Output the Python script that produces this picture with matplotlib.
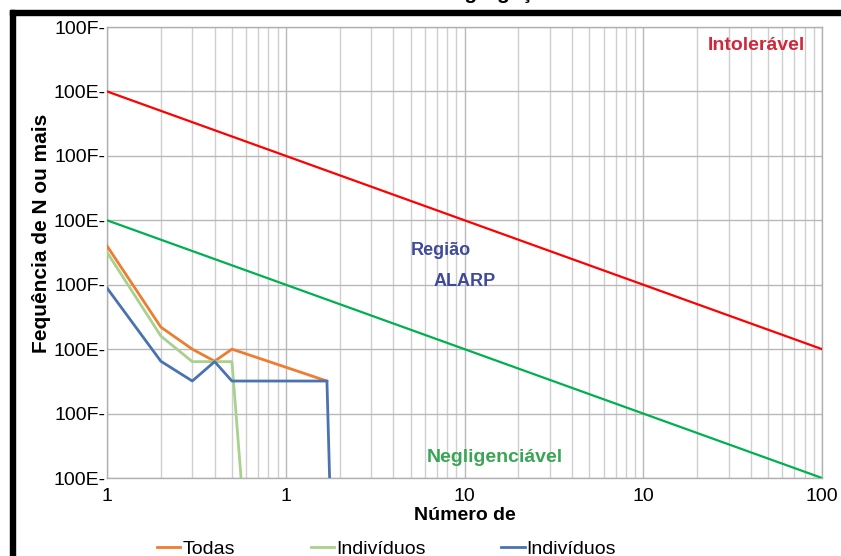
import numpy as np
import matplotlib
matplotlib.use('Agg')
import matplotlib.pyplot as plt
from matplotlib.patches import Rectangle

plt.rcParams['font.family'] = ['Liberation Sans', 'DejaVu Sans']

# ---- dados
x_todas = [1, 2, 3, 4, 5, 17]
y_todas = [4.0e-6, 2.2e-7, 1.0e-7, 6.5e-8, 1.0e-7, 3.2e-8]

x_ind1 = [1, 2, 3, 4, 5, 6]
y_ind1 = [3.2e-6, 1.6e-7, 6.4e-8, 6.4e-8, 6.4e-8, 1e-10]

x_ind2 = [1, 2, 3, 4, 5, 17, 18]
y_ind2 = [8.9e-7, 6.5e-8, 3.2e-8, 6.4e-8, 3.2e-8, 3.2e-8, 1e-10]

x_lim = [1, 10000]
y_intoleravel = [1e-3, 1e-7]
y_negligenciavel = [1e-5, 1e-9]

x_ticks = [1, 10, 100, 1000, 10000]
x_ticklabels = ['1', '1', '10', '10', '100']
y_ticks = [1e-9, 1e-8, 1e-7, 1e-6, 1e-5, 1e-4, 1e-3, 1e-2]
y_ticklabels = ['100E-', '100F-', '100E-', '100F-', '100E-', '100F-', '100E-', '100F-']

legenda = ['Todas', 'Indivíduos', 'Indivíduos']

# ---- figura
W, H = 841, 556
fig = plt.figure(figsize=(W / 100, H / 100), dpi=100)
ax = fig.add_axes([107 / W, 1 - 478 / H, (822 - 107) / W, (478 - 27) / H])

ax.set_xscale('log')
ax.set_yscale('log')

ax.plot(x_lim, y_intoleravel, color='#ff0000', lw=1.6, zorder=3)
ax.plot(x_lim, y_negligenciavel, color='#00b050', lw=1.6, zorder=3)

l1, = ax.plot(x_todas, y_todas, color='#ed7d31', lw=2, zorder=4)
l2, = ax.plot(x_ind1, y_ind1, color='#a9d18e', lw=2, zorder=4)
l3, = ax.plot(x_ind2, y_ind2, color='#4a72b0', lw=2, zorder=5)

ax.set_xlim(1, 10000)
ax.set_ylim(1e-9, 1e-2)

ax.set_xticks(x_ticks)
ax.set_xticklabels(x_ticklabels, fontsize=14)
ax.set_yticks(y_ticks)
ax.set_yticklabels(y_ticklabels, fontsize=14)
ax.yaxis.set_minor_locator(matplotlib.ticker.NullLocator())
ax.tick_params(which='both', length=0)
ax.tick_params(axis='y', pad=1)
ax.tick_params(axis='x', pad=7)

ax.grid(True, which='major', color='#b8b8b8', lw=1)
ax.grid(True, which='minor', axis='x', color='#cfcfcf', lw=1)
ax.set_axisbelow(True)
for s in ax.spines.values():
    s.set_color('#b0b0b0')
    s.set_linewidth(1)

ax.set_xlabel('Número de', fontsize=14, fontweight='bold', labelpad=2)
ax.set_ylabel('Fequência de N ou mais', fontsize=15, fontweight='bold')
ax.yaxis.set_label_coords(-0.079, 0.543)

# textos das regioes
ax.text(0.908, 0.96, 'Intolerável', transform=ax.transAxes,
        color='#d0283a', fontsize=14, fontweight='bold', ha='center', va='center')
ax.text(0.467, 0.505, 'Região', transform=ax.transAxes,
        color='#3f4b9a', fontsize=13, fontweight='bold', ha='center', va='center')
ax.text(0.50, 0.435, 'ALARP', transform=ax.transAxes,
        color='#3f4b9a', fontsize=13, fontweight='bold', ha='center', va='center')
ax.text(0.543, 0.046, 'Negligenciável', transform=ax.transAxes,
        color='#3aa655', fontsize=14, fontweight='bold', ha='center', va='center')

# legenda (cortada em baixo)
fig.legend([l1, l2, l3], legenda, loc='upper left', ncol=3,
           bbox_to_anchor=(157 / W, 1 - 540 / H), frameon=False,
           fontsize=14, handlelength=1.2, handletextpad=0.1,
           columnspacing=3.9, borderpad=0, borderaxespad=0)

# titulo quase todo fora da imagem
fig.text(430 / W, 1 + 1 / H, 'Curva F-N da Segregação', ha='center',
         va='baseline', fontsize=15, fontweight='bold')

# moldura preta
fig.patches.append(Rectangle((10 / W, 0), 5 / W, 1 - 10 / H, transform=fig.transFigure,
                             color='black', zorder=10))
fig.patches.append(Rectangle((10 / W, 1 - 15 / H), 1, 5 / H, transform=fig.transFigure,
                             color='black', zorder=10))

fig.savefig('out.png', dpi=100)
